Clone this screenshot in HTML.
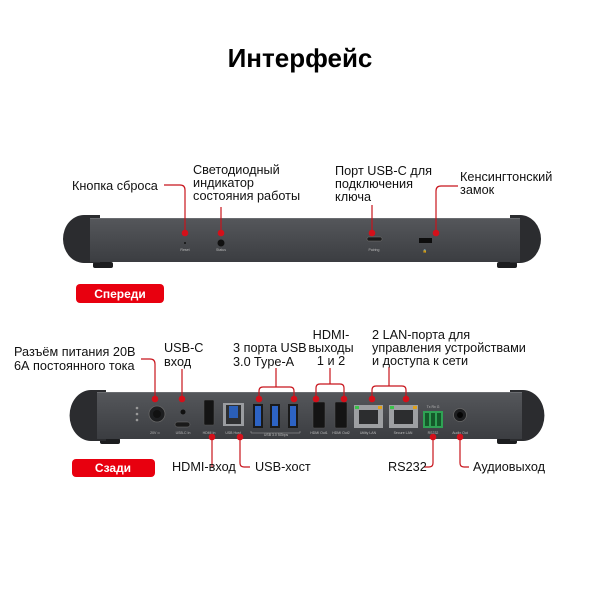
<!DOCTYPE html>
<html><head><meta charset="utf-8"><style>
html,body{margin:0;padding:0;background:#fff;}
svg{display:block;}
text{font-family:"Liberation Sans","Noto Sans CJK SC",sans-serif;}
.l{font-size:12.7px;fill:#111;}
.s{font-size:3.5px;fill:#bbb;}
</style></head><body>
<svg width="600" height="600" viewBox="0 0 600 600" xmlns="http://www.w3.org/2000/svg">
<defs>
<linearGradient id="pn" x1="0" y1="0" x2="0" y2="1"><stop offset="0" stop-color="#55575b"/><stop offset="1" stop-color="#3b3d41"/></linearGradient>
</defs>
<text x="300" y="67" text-anchor="middle" font-size="26" font-weight="bold" fill="#000">Интерфейс</text>

<!-- FRONT DEVICE -->
<g>
<rect x="93" y="262" width="20" height="6" rx="2" fill="#1c1d1f"/>
<rect x="497" y="262" width="20" height="6" rx="2" fill="#1c1d1f"/>
<path d="M100 215 H84 A21 24 0 0 0 84 263 H100 Z" fill="#2b2c2f"/>
<path d="M510 215 H520 A21 24 0 0 1 520 263 H510 Z" fill="#2b2c2f"/>
<rect x="90" y="218" width="430" height="44" fill="url(#pn)"/>
<rect x="90" y="218" width="430" height="1" fill="#6a6c70"/>
<circle cx="185" cy="243" r="1" fill="#111"/>
<text x="185" y="251" class="s" text-anchor="middle">Reset</text>
<circle cx="221" cy="243" r="3.5" fill="#111"/>
<text x="221" y="251" class="s" text-anchor="middle">Status</text>
<rect x="367" y="237" width="15" height="4" rx="1.5" fill="#1a1a1a" stroke="#777" stroke-width="0.5"/>
<text x="374" y="251" class="s" text-anchor="middle">Pairing</text>
<rect x="419" y="238" width="13" height="5" fill="#0d0d0d"/>
<text x="425" y="252" class="s" text-anchor="middle">🔒</text>
</g>
<g stroke="#c8141c" stroke-width="1.2" fill="none">
<path d="M164 185 H180 Q185 185 185 190 V233"/>
<path d="M221 207 V233"/>
<path d="M372 205 V233"/>
<path d="M458 186 H441 Q436 186 436 191 V233"/>
</g>
<g fill="#d4101a">
<circle cx="185" cy="233" r="3.3"/><circle cx="221" cy="233" r="3.3"/>
<circle cx="372" cy="233" r="3.3"/><circle cx="436" cy="233" r="3.3"/>
</g>
<text x="72" y="190" class="l">Кнопка сброса</text>
<text class="l"><tspan x="193" y="174">Светодиодный</tspan><tspan x="193" y="187">индикатор</tspan><tspan x="193" y="200">состояния работы</tspan></text>
<text class="l"><tspan x="335" y="175">Порт USB-C для</tspan><tspan x="335" y="188">подключения</tspan><tspan x="335" y="201">ключа</tspan></text>
<text class="l"><tspan x="460" y="181">Кенсингтонский</tspan><tspan x="460" y="194">замок</tspan></text>
<rect x="76" y="284" width="88" height="19" rx="4" fill="#e8000f"/>
<text x="120" y="298" text-anchor="middle" font-size="12" font-weight="bold" fill="#fff">Спереди</text>

<!-- BACK DEVICE -->
<g>
<rect x="100" y="438" width="20" height="6" rx="2" fill="#1c1d1f"/>
<rect x="497" y="438" width="20" height="6" rx="2" fill="#1c1d1f"/>
<path d="M106 390 H91 A21 25 0 0 0 91 441 H106 Z" fill="#2b2c2f"/>
<path d="M510 390 H523 A21 25 0 0 1 523 441 H510 Z" fill="#2b2c2f"/>
<rect x="97" y="392" width="425" height="47" fill="url(#pn)"/>
<rect x="97" y="392" width="425" height="1" fill="#6a6c70"/>
<circle cx="137" cy="408" r="1.3" fill="#999"/><circle cx="137" cy="414" r="1.3" fill="#999"/><circle cx="137" cy="420" r="1.3" fill="#999"/>
<circle cx="157" cy="414" r="8" fill="#1d1e20" stroke="#666" stroke-width="0.8"/>
<circle cx="157" cy="414" r="4" fill="#111"/>
<text x="155" y="434" class="s" text-anchor="middle">20V ═</text>
<circle cx="183" cy="412" r="2.5" fill="#111"/>
<rect x="175" y="422" width="15" height="5" rx="2.5" fill="#1a1a1a" stroke="#777" stroke-width="0.5"/>
<text x="183" y="434" class="s" text-anchor="middle">USB-C In</text>
<rect x="204" y="400" width="10" height="25" rx="1" fill="#141414" stroke="#555" stroke-width="0.5"/>
<text x="209" y="434" class="s" text-anchor="middle">HDMI In</text>
<rect x="223" y="403" width="21" height="23" fill="#9a9ca0"/>
<rect x="226" y="405" width="15" height="19" fill="#2e2f31"/>
<rect x="229" y="406" width="9" height="12" fill="#2b5fb8"/>
<text x="233" y="434" class="s" text-anchor="middle">USB Host</text>
<g fill="#1a1a1a"><rect x="253" y="404" width="10" height="24"/><rect x="270" y="404" width="10" height="24"/><rect x="288" y="404" width="10" height="24"/></g>
<g fill="#2d63c4"><rect x="255" y="406" width="6" height="20"/><rect x="272" y="406" width="6" height="20"/><rect x="290" y="406" width="6" height="20"/></g>
<path d="M251 431 V433 H300 V431" stroke="#aaa" stroke-width="0.5" fill="none"/>
<text x="276" y="436" class="s" text-anchor="middle">USB 3.0 5Gbps</text>
<rect x="313" y="402" width="12" height="26" rx="1" fill="#141414" stroke="#555" stroke-width="0.5"/>
<rect x="335" y="402" width="12" height="26" rx="1" fill="#141414" stroke="#555" stroke-width="0.5"/>
<text x="319" y="434" class="s" text-anchor="middle">HDMI Out1</text>
<text x="341" y="434" class="s" text-anchor="middle">HDMI Out2</text>
<rect x="354" y="405" width="29" height="23" fill="#9d9fa2"/>
<rect x="389" y="405" width="29" height="23" fill="#9d9fa2"/>
<rect x="359" y="410" width="19" height="14" fill="#2c2d2f"/>
<rect x="394" y="410" width="19" height="14" fill="#2c2d2f"/>
<rect x="355" y="406" width="4" height="3" fill="#3bc24a"/><rect x="378" y="406" width="4" height="3" fill="#e0a11a"/>
<rect x="390" y="406" width="4" height="3" fill="#3bc24a"/><rect x="413" y="406" width="4" height="3" fill="#e0a11a"/>
<text x="368" y="434" class="s" text-anchor="middle">Utility LAN</text>
<text x="403" y="434" class="s" text-anchor="middle">Secure LAN</text>
<text x="433" y="408" class="s" text-anchor="middle">Tx Rx G</text>
<rect x="423" y="411" width="20" height="17" fill="#2fa254"/>
<g fill="#145a2a"><rect x="425" y="413" width="4" height="13"/><rect x="431" y="413" width="4" height="13"/><rect x="437" y="413" width="4" height="13"/></g>
<text x="433" y="434" class="s" text-anchor="middle">RS232</text>
<circle cx="460" cy="415" r="6.5" fill="#1d1e20" stroke="#666" stroke-width="0.8"/>
<circle cx="460" cy="415" r="3" fill="#050505"/>
<text x="460" y="434" class="s" text-anchor="middle">Audio Out</text>
</g>
<g stroke="#c8141c" stroke-width="1.2" fill="none">
<path d="M141 359 H150 Q155 359 155 364 V399"/>
<path d="M182 369 V399"/>
<path d="M259 399 V391 Q259 387 263 387 H290 Q294 387 294 391 V399 M276 387 V368"/>
<path d="M316 399 V388 Q316 384 320 384 H340 Q344 384 344 388 V399 M330 384 V368"/>
<path d="M372 399 V390 Q372 386 376 386 H402 Q406 386 406 390 V399 M389 386 V367"/>
<path d="M212 437 V467"/>
<path d="M240 437 V463 Q240 467 244 467 H250"/>
<path d="M433 437 V463 Q433 467 429 467 H424"/>
<path d="M460 437 V463 Q460 467 464 467 H469"/>
</g>
<g fill="#d4101a">
<circle cx="155" cy="399" r="3.3"/><circle cx="182" cy="399" r="3.3"/>
<circle cx="259" cy="399" r="3.3"/><circle cx="294" cy="399" r="3.3"/>
<circle cx="316" cy="399" r="3.3"/><circle cx="344" cy="399" r="3.3"/>
<circle cx="372" cy="399" r="3.3"/><circle cx="406" cy="399" r="3.3"/>
<circle cx="212" cy="437" r="3.3"/><circle cx="240" cy="437" r="3.3"/>
<circle cx="433" cy="437" r="3.3"/><circle cx="460" cy="437" r="3.3"/>
</g>
<text class="l"><tspan x="14" y="356">Разъём питания 20В</tspan><tspan x="14" y="370">6А постоянного тока</tspan></text>
<text class="l"><tspan x="164" y="352">USB-C</tspan><tspan x="164" y="366">вход</tspan></text>
<text class="l"><tspan x="233" y="352">3 порта USB</tspan><tspan x="233" y="366">3.0 Type-A</tspan></text>
<text class="l" text-anchor="middle"><tspan x="331" y="339">HDMI-</tspan><tspan x="331" y="352">выходы</tspan><tspan x="331" y="365">1 и 2</tspan></text>
<text class="l"><tspan x="372" y="339">2 LAN-порта для</tspan><tspan x="372" y="352">управления устройствами</tspan><tspan x="372" y="365">и доступа к сети</tspan></text>
<text x="172" y="471" class="l">HDMI-вход</text>
<text x="255" y="471" class="l">USB-хост</text>
<text x="388" y="471" class="l">RS232</text>
<text x="473" y="471" class="l">Аудиовыход</text>
<rect x="72" y="459" width="83" height="18" rx="4" fill="#e8000f"/>
<text x="113" y="472" text-anchor="middle" font-size="12" font-weight="bold" fill="#fff">Сзади</text>
</svg>
</body></html>
